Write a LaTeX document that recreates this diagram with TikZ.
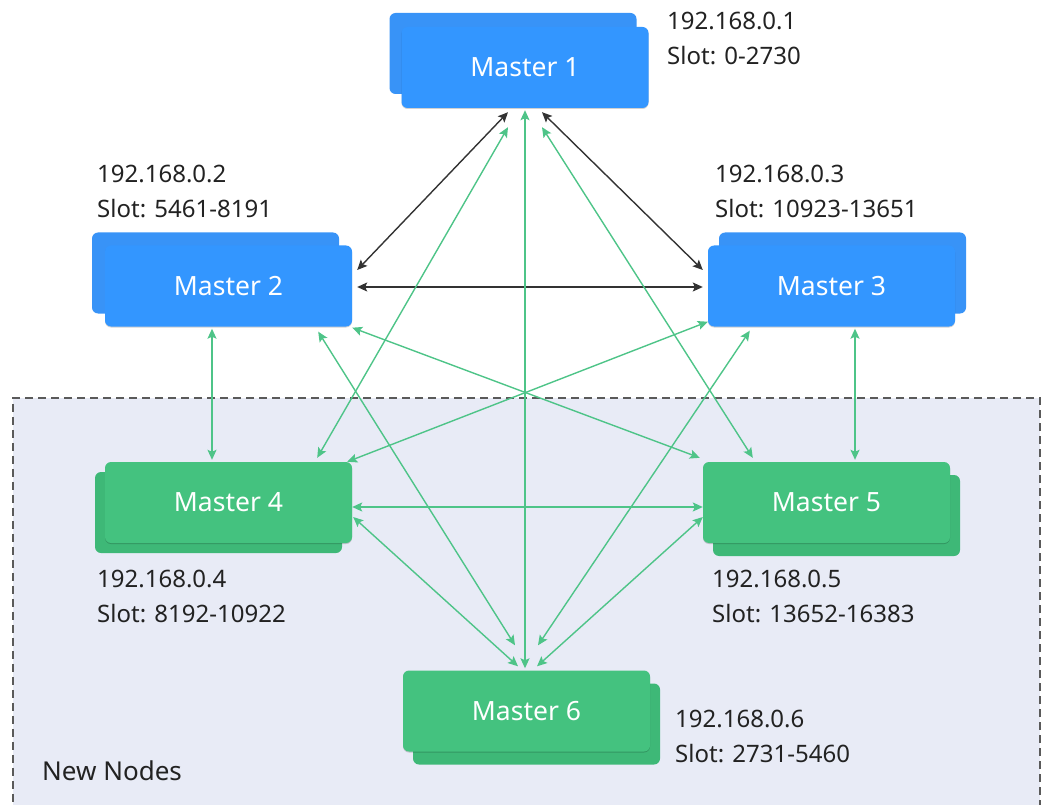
\documentclass[tikz,border=0pt]{standalone}
\usepackage{fontspec}
\setmainfont{Noto Sans}
\usetikzlibrary{arrows.meta,calc,shadows}
\definecolor{mblue}{HTML}{3396FF}
\definecolor{mblueback}{HTML}{3893F7}
\definecolor{mgreen}{HTML}{44C27F}
\definecolor{mgreenback}{HTML}{3EB877}
\definecolor{linkgreen}{HTML}{4EC488}
\definecolor{linkdark}{HTML}{333333}
\definecolor{zonefill}{HTML}{E8EBF6}
\definecolor{zoneedge}{HTML}{5A5A5A}
\definecolor{labeltext}{HTML}{222222}

\begin{document}
\begin{tikzpicture}[x=1pt,y=-1pt,
  boxbase/.style={rounded corners=6pt, minimum width=247pt, minimum height=81pt,
    inner sep=0pt, text=white, font=\fontsize{26.5}{30}\selectfont},
  bluefront/.style={boxbase, fill=mblue,
    drop shadow={shadow xshift=0pt, shadow yshift=-1pt, opacity=0.18, fill=black}},
  blueback/.style={boxbase, fill=mblueback},
  greenfront/.style={boxbase, fill=mgreen,
    drop shadow={shadow xshift=0pt, shadow yshift=-1pt, opacity=0.18, fill=black}},
  greenback/.style={boxbase, fill=mgreenback},
  lbl/.style={anchor=north west, inner sep=0pt, align=left, text=labeltext,
    font=\fontsize{24}{35}\selectfont},
  darklink/.style={draw=linkdark, line width=1.4pt,
    {Stealth[length=10pt,width=9pt,inset=2pt]}-{Stealth[length=10pt,width=9pt,inset=2pt]}},
  greenlink/.style={draw=linkgreen, line width=1.4pt,
    {Stealth[length=10pt,width=9pt,inset=2pt]}-{Stealth[length=10pt,width=9pt,inset=2pt]}}
]
\useasboundingbox (0,0) rectangle (1042,805);

% zone holding the newly added masters
\node[draw=zoneedge, fill=zonefill, line width=1.8pt,
  dash pattern=on 8pt off 5pt, inner sep=0pt, anchor=north west,
  minimum width=1027pt, minimum height=410pt] (zone) at (12,397) {};
\node[anchor=base west, inner sep=0pt, text=labeltext,
  font=\fontsize{26}{30}\selectfont] (zonetitle) at (42,780) {New Nodes};

% stacked master boxes: back card first, then front card
\node[blueback] (m1b) at (513,53.5) {};
\node[bluefront] (m1) at (525,67.5) {Master 1};

\node[blueback] (m2b) at (215.5,273) {};
\node[bluefront] (m2) at (228.5,286) {Master 2};

\node[blueback] (m3b) at (842.5,273) {};
\node[bluefront] (m3) at (831.5,286) {Master 3};

\node[greenback] (m4b) at (218.5,512.5) {};
\node[greenfront] (m4) at (228.5,502.5) {Master 4};

\node[greenback] (m5b) at (836.5,515.5) {};
\node[greenfront] (m5) at (826.5,502.5) {Master 5};

\node[greenback] (m6b) at (536.5,724) {};
\node[greenfront] (m6) at (526.5,711) {Master 6};

% address and slot labels
\node[lbl] (l1) at (667,12) {192.168.0.1\\Slot: 0-2730};
\node[lbl] (l2) at (97,165) {192.168.0.2\\Slot: 5461-8191};
\node[lbl] (l3) at (715,165) {192.168.0.3\\Slot: 10923-13651};
\node[lbl] (l4) at (97,570) {192.168.0.4\\Slot: 8192-10922};
\node[lbl] (l5) at (712,570) {192.168.0.5\\Slot: 13652-16383};
\node[lbl] (l6) at (675,710) {192.168.0.6\\Slot: 2731-5460};

% links among the original masters
\draw[darklink] ($(m1.south)+(-17,4)$) -- ($(m2.east)+(5,-16)$);
\draw[darklink] ($(m1.south)+(17,4)$) -- ($(m3.west)+(-5,-16)$);
\draw[darklink] ($(m2.east)+(5,1)$) -- ($(m3.west)+(-5,1)$);

% links reaching the new masters
\draw[greenlink] ($(m1.south)+(-17,19)$) -- ($(m4.north east)+(-35,-4)$);
\draw[greenlink] ($(m1.south)+(17,19)$) -- ($(m5.north west)+(50,-4)$);
\draw[greenlink] ($(m1.south)+(0,2)$) -- ($(m1.south |- m6.north)+(0,-2)$);

\draw[greenlink] ($(m2.south)+(-16.5,2)$) -- ($(m2.south |- m4.north)+(-16.5,-2)$);
\draw[greenlink] ($(m3.south)+(23.5,2)$) -- ($(m3.south |- m5.north)+(23.5,-2)$);

\draw[greenlink] ($(m2.south east)+(0,1)$) -- ($(m5.north west)+(-3,-4)$);
\draw[greenlink] ($(m3.south west)+(0,-5)$) -- ($(m4.north east)+(-5,0)$);

\draw[greenlink] ($(m2.south east)+(-34,5)$) -- ($(m6.north)+(-11.5,-25)$);
\draw[greenlink] ($(m3.south west)+(42,4)$) -- ($(m6.north)+(11.5,-25)$);

\draw[greenlink] ($(m4.east)+(0,4.5)$) -- ($(m5.west)+(0,4.5)$);
\draw[greenlink] ($(m4.east)+(1,14.5)$) -- ($(m6.north)+(-8.5,-4)$);
\draw[greenlink] ($(m5.west)+(0,14.5)$) -- ($(m6.north)+(10.5,-4)$);
\end{tikzpicture}
\end{document}
